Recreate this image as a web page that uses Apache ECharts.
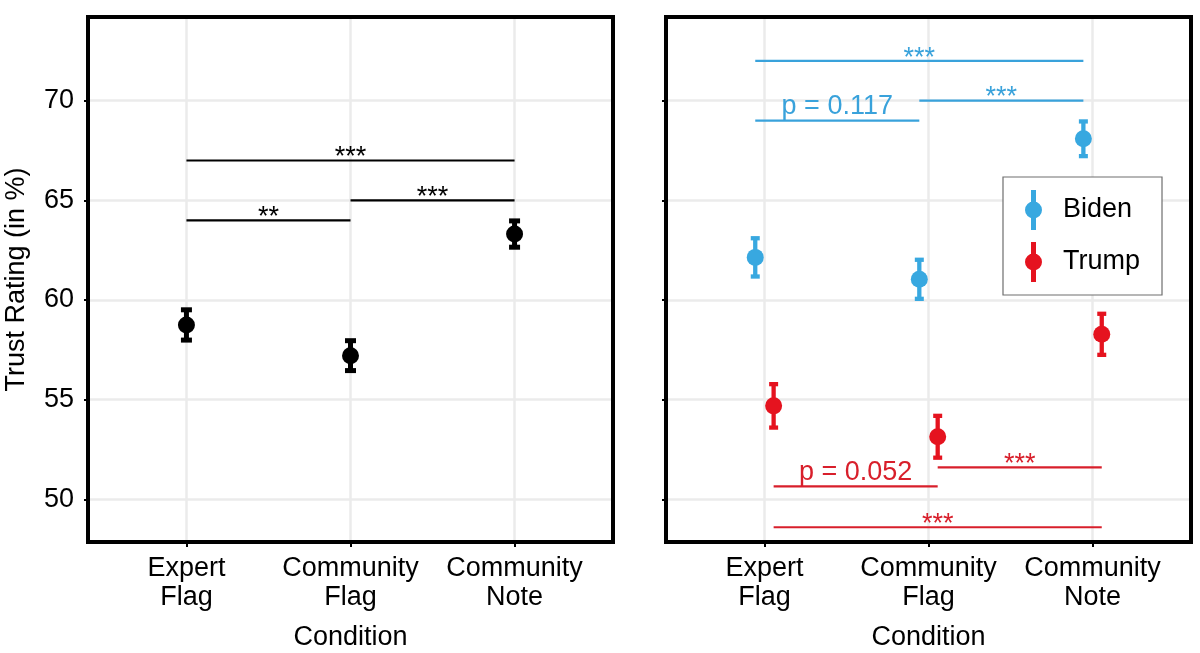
<!DOCTYPE html>
<html><head><meta charset="utf-8">
<script src="https://cdn.jsdelivr.net/npm/echarts@6/dist/echarts.min.js"></script>
<style>html,body{margin:0;padding:0;background:#fff}#c{width:1200px;height:653px}</style>
</head><body><div id="c"></div>
<script>
// ---------- data ----------
const categories = ['Expert\nFlag', 'Community\nFlag', 'Community\nNote'];
const categoryPos = [0, 1, 2];
const yTicks = [50, 55, 60, 65, 70];

const overallMean = [58.75, 57.21, 63.31];
const overallErr  = [0.76, 0.75, 0.66];
const bidenMean = [62.14, 61.04, 68.09];
const bidenErr  = [0.96, 0.98, 0.87];
const trumpMean = [54.69, 53.14, 58.28];
const trumpErr  = [1.09, 1.05, 1.03];

const overallSigFrom = [0, 0, 1];
const overallSigTo   = [2, 1, 2];
const overallSigY    = [67, 64, 65];
const overallSigLabel = ['***', '**', '***'];

const bidenSigFrom = [0, 1, 0];
const bidenSigTo   = [2, 2, 1];
const bidenSigY    = [72, 70, 69];
const bidenSigLabel = ['***', '***', 'p = 0.117'];

const trumpSigFrom = [0, 1, 0];
const trumpSigTo   = [1, 2, 2];
const trumpSigY    = [50.65, 51.6, 48.6];
const trumpSigLabel = ['p = 0.052', '***', '***'];

// ---------- styling ----------
const FONT = 'Liberation Sans';
const FS = 27;
const BLUE = '#38A8E0';
const BLUE_LINE = '#39A2DB';
const RED = '#E5131F';
const RED_LINE = '#D81F2B';
const dodge = 0.056;
const Y_MIN = 47.86, Y_MAX = 74.2;
const grids = [
  {left: 88, top: 17, width: 525, height: 525},
  {left: 666, top: 17, width: 525, height: 525}
];

function pointData(mean, shift) { return mean.map((m, i) => [categoryPos[i] + shift, m]); }
function errData(mean, err, shift) { return mean.map((m, i) => [categoryPos[i] + shift, m - err[i], m + err[i]]); }
function sigData(from, to, y, shift) { return from.map((f, i) => [categoryPos[f] + shift, categoryPos[to[i]] + shift, y[i]]); }

function errRender(color, lw, capHalf) {
  return function (params, api) {
    const x = api.value(0), lo = api.value(1), hi = api.value(2);
    const a = api.coord([x, lo]), b = api.coord([x, hi]);
    const st = {stroke: color, lineWidth: lw};
    return {type: 'group', children: [
      {type: 'line', shape: {x1: a[0], y1: a[1], x2: b[0], y2: b[1]}, style: st},
      {type: 'line', shape: {x1: a[0] - capHalf, y1: a[1], x2: a[0] + capHalf, y2: a[1]}, style: st},
      {type: 'line', shape: {x1: b[0] - capHalf, y1: b[1], x2: b[0] + capHalf, y2: b[1]}, style: st}
    ]};
  };
}

function sigRender(color, labels) {
  return function (params, api) {
    const y = api.value(2);
    const a = api.coord([api.value(0), y]), b = api.coord([api.value(1), y]);
    const label = labels[params.dataIndex];
    const isStar = label.charAt(0) === '*';
    const baseline = isStar ? a[1] + 6.5 : a[1] - 4.8;
    return {type: 'group', children: [
      {type: 'line', shape: {x1: a[0], y1: a[1], x2: b[0], y2: b[1]}, style: {stroke: color, lineWidth: 2.2}},
      {type: 'text', x: (a[0] + b[0]) / 2, y: baseline - 9.3,
       style: {text: label, fill: color, fontSize: FS, fontFamily: FONT, align: 'center', verticalAlign: 'middle'}}
    ]};
  };
}

function xAxis(i) {
  return {
    type: 'value', gridIndex: i, min: -0.6, max: 2.6,
    axisLine: {show: false, onZero: false},
    axisTick: {show: true, customValues: categoryPos, length: 5, lineStyle: {color: '#000', width: 2}},
    axisLabel: {customValues: categoryPos, formatter: v => categories[Math.round(v)],
      fontSize: FS, fontFamily: FONT, color: '#000', lineHeight: 29, margin: 12},
    splitLine: {show: true, lineStyle: {color: '#EBEBEB', width: 2.5}},
    name: 'Condition', nameLocation: 'middle', nameGap: 82,
    nameTextStyle: {fontSize: FS, fontFamily: FONT, color: '#000'}
  };
}
function yAxis(i) {
  return {
    type: 'value', gridIndex: i, min: Y_MIN, max: Y_MAX,
    axisLine: {show: false, onZero: false},
    axisTick: {show: true, customValues: yTicks, length: 4, lineStyle: {color: '#000', width: 2}},
    axisLabel: {show: i === 0, customValues: yTicks, fontSize: FS, fontFamily: FONT, color: '#000', margin: 14},
    splitLine: {show: true, lineStyle: {color: '#EBEBEB', width: 2.5}},
    name: i === 0 ? 'Trust Rating (in %)' : '', nameLocation: 'middle', nameGap: 58, nameRotate: 90,
    nameTextStyle: {fontSize: FS, fontFamily: FONT, color: '#000'}
  };
}

const legendIcon = 'path://M6,0 L11,0 L11,14 L6,14 Z M6,26 L11,26 L11,40 L6,40 Z M0,20 A8.5,8.5 0 1 1 17,20 A8.5,8.5 0 1 1 0,20 Z';

const option = {
  animation: false,
  backgroundColor: '#fff',
  textStyle: {fontFamily: FONT},
  grid: grids.map(g => Object.assign({show: false, containLabel: false, outerBoundsMode: 'none'}, g)),
  xAxis: [xAxis(0), xAxis(1)],
  yAxis: [yAxis(0), yAxis(1)],
  legend: {
    data: ['Biden', 'Trump'], orient: 'vertical', left: 1003, top: 177,
    padding: [13, 22, 13, 22], itemGap: 12, itemWidth: 17, itemHeight: 40, icon: legendIcon,
    borderColor: '#6e6e6e', borderWidth: 1.2, backgroundColor: '#fff',
    textStyle: {fontSize: FS, fontFamily: FONT, color: '#000', padding: [0, 0, 0, 16]},
    selectedMode: false
  },
  series: [
    {type: 'custom', xAxisIndex: 0, yAxisIndex: 0, renderItem: errRender('#000', 5, 5.5),
     data: errData(overallMean, overallErr, 0), encode: {x: 0, y: [1, 2]}, z: 3},
    {type: 'scatter', xAxisIndex: 0, yAxisIndex: 0, symbolSize: 17, itemStyle: {color: '#000', opacity: 1},
     data: pointData(overallMean, 0), z: 4},
    {type: 'custom', xAxisIndex: 0, yAxisIndex: 0, renderItem: sigRender('#000', overallSigLabel),
     data: sigData(overallSigFrom, overallSigTo, overallSigY, 0), encode: {x: [0, 1], y: 2}, z: 2},
    {type: 'custom', name: 'BidenErr', xAxisIndex: 1, yAxisIndex: 1, renderItem: errRender(BLUE, 4.3, 4.5),
     data: errData(bidenMean, bidenErr, -dodge), encode: {x: 0, y: [1, 2]}, z: 3},
    {type: 'scatter', name: 'Biden', xAxisIndex: 1, yAxisIndex: 1, symbolSize: 17, itemStyle: {color: BLUE, opacity: 1},
     data: pointData(bidenMean, -dodge), z: 4},
    {type: 'custom', name: 'TrumpErr', xAxisIndex: 1, yAxisIndex: 1, renderItem: errRender(RED, 4.3, 4.5),
     data: errData(trumpMean, trumpErr, dodge), encode: {x: 0, y: [1, 2]}, z: 3},
    {type: 'scatter', name: 'Trump', xAxisIndex: 1, yAxisIndex: 1, symbolSize: 17, itemStyle: {color: RED, opacity: 1},
     data: pointData(trumpMean, dodge), z: 4},
    {type: 'custom', xAxisIndex: 1, yAxisIndex: 1, renderItem: sigRender(BLUE_LINE, bidenSigLabel),
     data: sigData(bidenSigFrom, bidenSigTo, bidenSigY, -dodge), encode: {x: [0, 1], y: 2}, z: 2},
    {type: 'custom', xAxisIndex: 1, yAxisIndex: 1, renderItem: sigRender(RED_LINE, trumpSigLabel),
     data: sigData(trumpSigFrom, trumpSigTo, trumpSigY, dodge), encode: {x: [0, 1], y: 2}, z: 2}
  ],
  graphic: grids.map(g => ({
    type: 'rect', z: 100, silent: true,
    shape: {x: g.left, y: g.top, width: g.width, height: g.height},
    style: {fill: null, stroke: '#000', lineWidth: 4}
  }))
};

const chart = echarts.init(document.getElementById('c'), null, {renderer: 'canvas'});
chart.setOption(option);
</script>
</body></html>
